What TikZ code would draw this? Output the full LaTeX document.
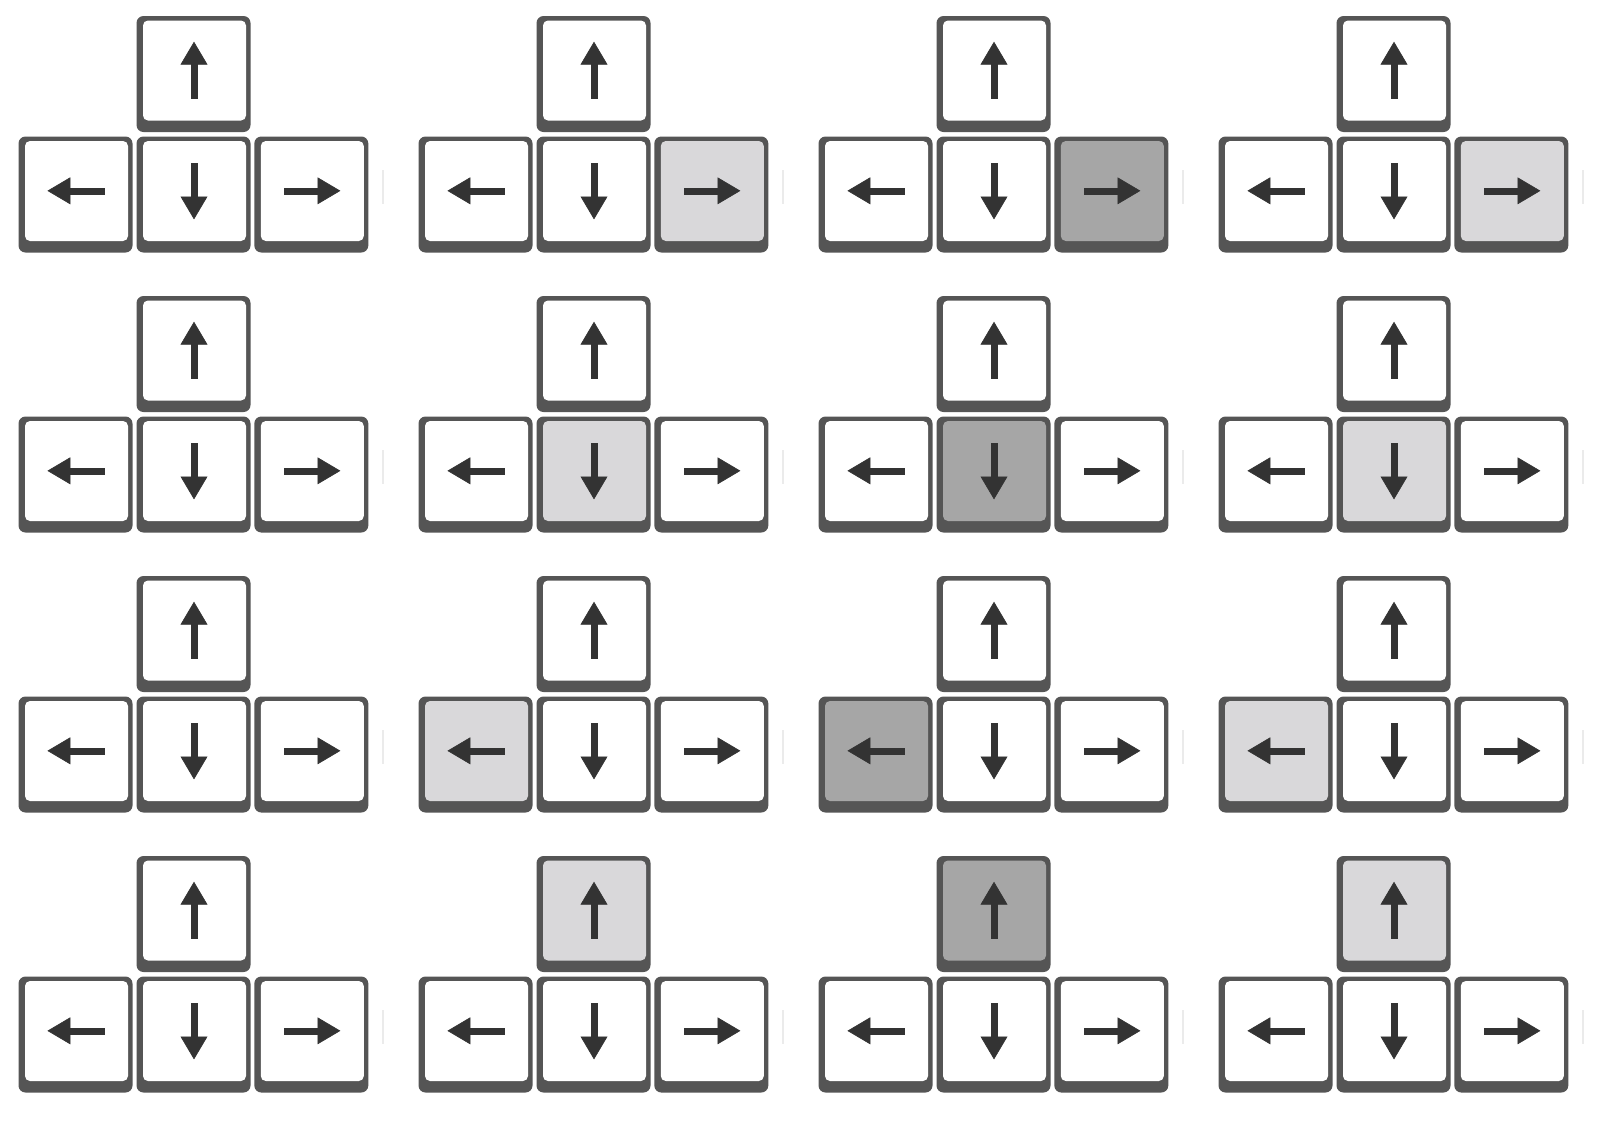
\documentclass[tikz,border=0pt]{standalone}
\definecolor{keyedge}{HTML}{555555}
\definecolor{glyph}{HTML}{333333}
\definecolor{lighthi}{HTML}{D9D8DA}
\definecolor{darkhi}{HTML}{A6A6A6}
\definecolor{faint}{HTML}{EBEBEB}
\tikzset{
  keyouter/.style={fill=keyedge, rounded corners=7pt},
  keyface/.style={rounded corners=5pt},
  glyphshape/.style={fill=glyph, draw=glyph, line width=0.6pt, line join=miter},
  faintline/.style={draw=faint, line width=1.5pt},
  pics/akey/.style n args={3}{code={
    \fill[keyouter] (0,0) rectangle (114,116);
    \fill[keyface, fill=#3] (6.5,4.5) rectangle (109.5,104.5);
    \filldraw[glyphshape]
      ({57.5+28*(#1)},{54.3+28*(#2)}) --
      ({57.5+6*(#1)-13*(#2)},{54.3+6*(#2)+13*(#1)}) --
      ({57.5+6*(#1)+13*(#2)},{54.3+6*(#2)-13*(#1)}) -- cycle;
    \filldraw[glyphshape]
      ({57.5+7*(#1)-3*(#2)},{54.3+7*(#2)+3*(#1)}) --
      ({57.5-28*(#1)-3*(#2)},{54.3-28*(#2)+3*(#1)}) --
      ({57.5-28*(#1)+3*(#2)},{54.3-28*(#2)-3*(#1)}) --
      ({57.5+7*(#1)+3*(#2)},{54.3+7*(#2)-3*(#1)}) -- cycle;
  }}
}
\newcommand\keygroup[6]{%
  \begin{scope}[shift={(#1,#2)}]
    \pic at (136.5,16) {akey={0}{-1}{#3}};
    \pic at (18.5,136.5) {akey={-1}{0}{#4}};
    \pic at (136.5,136.5) {akey={0}{1}{#5}};
    \pic at (254.3,136.5) {akey={1}{0}{#6}};
    \draw[faintline] (383,170) -- (383,204);
  \end{scope}}
\begin{document}
\begin{tikzpicture}[x=1pt,y=-1pt]
  \fill[white] (0,0) rectangle (1600,1120);
  \useasboundingbox (0,0) rectangle (1600,1120);
  % row 1: right key
  \keygroup{0}{0}{white}{white}{white}{white}
  \keygroup{400}{0}{white}{white}{white}{lighthi}
  \keygroup{800}{0}{white}{white}{white}{darkhi}
  \keygroup{1200}{0}{white}{white}{white}{lighthi}
  % row 2: down key
  \keygroup{0}{280}{white}{white}{white}{white}
  \keygroup{400}{280}{white}{white}{lighthi}{white}
  \keygroup{800}{280}{white}{white}{darkhi}{white}
  \keygroup{1200}{280}{white}{white}{lighthi}{white}
  % row 3: left key
  \keygroup{0}{560}{white}{white}{white}{white}
  \keygroup{400}{560}{white}{lighthi}{white}{white}
  \keygroup{800}{560}{white}{darkhi}{white}{white}
  \keygroup{1200}{560}{white}{lighthi}{white}{white}
  % row 4: up key
  \keygroup{0}{840}{white}{white}{white}{white}
  \keygroup{400}{840}{lighthi}{white}{white}{white}
  \keygroup{800}{840}{darkhi}{white}{white}{white}
  \keygroup{1200}{840}{lighthi}{white}{white}{white}
\end{tikzpicture}
\end{document}
